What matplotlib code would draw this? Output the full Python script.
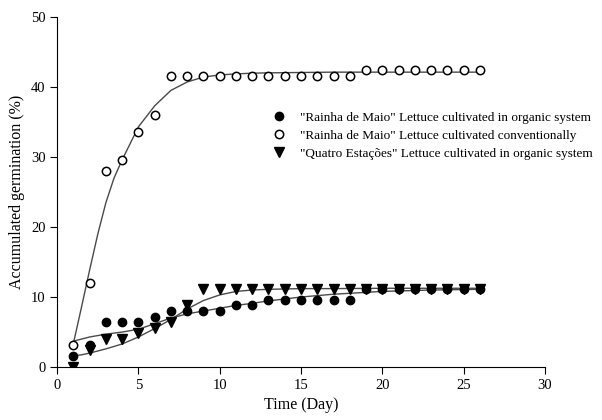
import numpy as np
import matplotlib
matplotlib.use("Agg")
import matplotlib.pyplot as plt

plt.rcParams['font.family'] = ['Liberation Serif', 'DejaVu Serif']

days = np.arange(1, 27)

# "Rainha de Maio" organic (filled circles)
rm_org = [1.6, 3.2, 6.4, 6.4, 6.4, 7.2, 8.0, 8.0, 8.0, 8.0, 8.8, 8.8, 9.6,
          9.6, 9.6, 9.6, 9.6, 9.6, 11.2, 11.2, 11.2, 11.2, 11.2, 11.2, 11.2, 11.2]
# "Rainha de Maio" conventional (open circles)
rm_conv = [3.2, 12.0, 28.0, 29.6, 33.6, 36.0, 41.6, 41.6, 41.6, 41.6, 41.6, 41.6,
           41.6, 41.6, 41.6, 41.6, 41.6, 41.6, 42.4, 42.4, 42.4, 42.4, 42.4, 42.4, 42.4, 42.4]
# "Quatro Estacoes" organic (triangles)
qe_org = [0.0, 2.4, 4.0, 4.0, 4.8, 5.6, 6.4, 8.8, 11.2, 11.2, 11.2, 11.2, 11.2,
          11.2, 11.2, 11.2, 11.2, 11.2, 11.2, 11.2, 11.2, 11.2, 11.2, 11.2, 11.2, 11.2]

# fitted curves
fit_days = [1, 1.5, 2, 2.5, 3, 3.5, 4, 5, 6, 7, 8, 9, 10, 11, 12, 13, 15, 17, 20, 23, 26]
fit_conv = [3.4, 8.6, 13.9, 19.0, 23.5, 27.0, 29.6, 34.3, 37.3, 39.5, 40.7, 41.4,
            41.7, 41.85, 41.95, 42.0, 42.05, 42.1, 42.1, 42.1, 42.1]
fit_rm = [3.7, 4.0, 4.3, 4.5, 4.7, 4.85, 5.0, 5.4, 6.2, 7.0, 7.6, 8.0, 8.4, 8.8,
          9.1, 9.45, 10.0, 10.4, 10.8, 11.0, 11.1]
fit_qe = [1.6, 1.75, 2.0, 2.3, 2.6, 2.95, 3.3, 4.3, 5.5, 6.8, 8.3, 9.5, 10.3, 10.8,
          11.0, 11.1, 11.2, 11.2, 11.25, 11.25, 11.25]

fig = plt.figure(figsize=(6.02, 4.2), dpi=100)
ax = fig.add_axes([0.095, 0.126, 0.81, 0.834])

lc = '#4a4a4a'
ax.plot(fit_days, fit_conv, '-', color=lc, lw=1)
ax.plot(fit_days, fit_rm, '-', color=lc, lw=1)
ax.plot(fit_days, fit_qe, '-', color=lc, lw=1)

ax.plot(days, qe_org, 'v', color='black', ms=6.5, ls='none',
        label='"Quatro Estações" Lettuce cultivated in organic system', zorder=3)
ax.plot(days, rm_org, 'o', color='black', ms=6, ls='none',
        label='"Rainha de Maio" Lettuce cultivated in organic system', zorder=4)
ax.plot(days, rm_conv, 'o', mfc='white', mec='black', mew=1.1, ms=6, ls='none',
        label='"Rainha de Maio" Lettuce cultivated conventionally', zorder=4)

h, l = ax.get_legend_handles_labels()
order = [1, 2, 0]
ax.legend([h[i] for i in order], [l[i] for i in order], loc='upper left',
          bbox_to_anchor=(0.43, 0.745), frameon=False, fontsize=9.5,
          handlelength=1.0, handletextpad=1.1, labelspacing=0.45, borderaxespad=0)

ax.set_xlim(0, 30)
ax.set_ylim(0, 50)
ax.set_xticks(range(0, 31, 5))
ax.set_yticks(range(0, 51, 10))
ax.spines['top'].set_visible(False)
ax.spines['right'].set_visible(False)
ax.tick_params(direction='out', length=5, labelsize=10.5)
ax.set_xlabel('Time (Day)', fontsize=11.5)
ax.set_ylabel('Accumulated germination (%)', fontsize=11.5)

fig.savefig('out.png', dpi=100)
